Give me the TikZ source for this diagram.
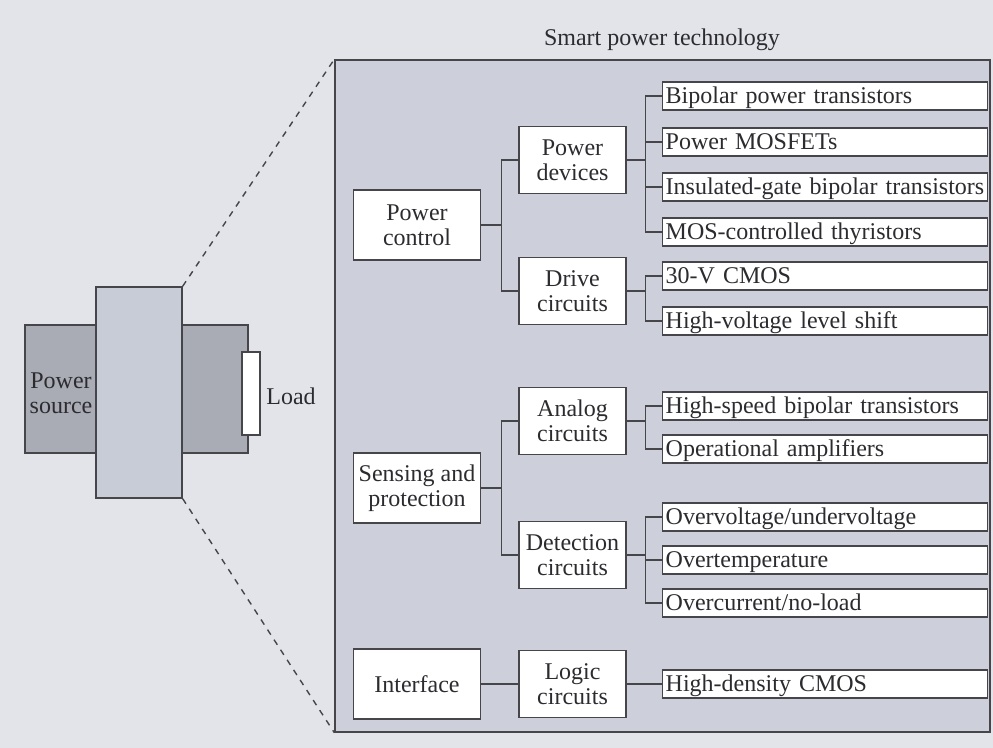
\documentclass[tikz,border=0pt]{standalone}
\usepackage{fontspec}
\setmainfont{Liberation Serif}
\usepackage{tikz}
\usetikzlibrary{positioning}
\definecolor{bgcol}{HTML}{E2E4EA}
\definecolor{boxcol}{HTML}{CDD0DB}
\definecolor{darkcol}{HTML}{A9ACB4}
\definecolor{midcol}{HTML}{C8CCD6}
\definecolor{linecol}{HTML}{46464A}
\definecolor{textcol}{HTML}{2C2C30}
\tikzset{
	groupnode/.style={
			draw=linecol,
			fill=white,
			line width=0.7pt,
			minimum width=63.5pt,
			minimum height=35pt,
			inner sep=1pt,
			align=center,
			text=textcol,
			font=\fontsize{12}{12.5}\selectfont
		},
	subnode/.style={
			groupnode,
			minimum width=53.5pt,
			minimum height=33.5pt
		},
	leafnode/.style={
			draw=linecol,
			fill=white,
			line width=0.7pt,
			anchor=west,
			text width=159.5pt,
			inner xsep=1.5pt,
			inner ysep=0pt,
			minimum height=14pt,
			text height=9.5pt,
			text depth=1.5pt,
			align=left,
			text=textcol,
			font=\fontsize{12}{12.5}\selectfont
		},
	plainnode/.style={
			draw=linecol,
			line width=0.7pt,
			inner sep=0pt
		},
	labelnode/.style={
			align=center,
			inner sep=0pt,
			text=textcol,
			font=\fontsize{12}{12.5}\selectfont
		},
	connline/.style={
			draw=linecol,
			line width=0.7pt
		}
}

\begin{document}
\begin{tikzpicture}[x=0.5pt, y=-0.5pt]

\useasboundingbox (0,0) rectangle (993,748);
\fill[bgcol] (0,0) rectangle (993,748);

\node[plainnode, fill=darkcol, minimum width=36pt, minimum height=64pt] (src) at (61,389) {};
\node[plainnode, fill=darkcol, minimum width=33pt, minimum height=64pt] (out) at (215,389) {};
\node[plainnode, fill=midcol, minimum width=43pt, minimum height=105.5pt] (mid) at (139,392.5) {};
\node[plainnode, fill=white, minimum width=9pt, minimum height=41.5pt] (load) at (251,393.5) {};
\node[labelnode] (srctext) at (61,393) {Power\\source};
\node[labelnode] (loadtext) at (291,396) {Load};

\node[plainnode, fill=boxcol, minimum width=327.5pt, minimum height=336pt] (big) at (662.5,396) {};
\node[labelnode] (title) at (662,40) {Smart power technology};

\draw[connline, dashed] (mid.north east) -- (big.north west);
\draw[connline, dashed] (mid.south east) -- (big.south west);

\node[groupnode] (pc) at (417,225) {Power\\control};
\node[groupnode] (sp) at (417,488) {Sensing and\\protection};
\node[groupnode] (itf) at (417,684) {Interface};

\node[subnode] (pd) at (572.5,160) {Power\\devices};
\node[subnode] (dc) at (572.5,291) {Drive\\circuits};
\node[subnode] (ac) at (572.5,421) {Analog\\circuits};
\node[subnode] (det) at (572.5,555) {Detection\\circuits};
\node[subnode] (lc) at (572.5,684) {Logic\\circuits};

\node[leafnode] (bpt) at (662,96) {Bipolar power transistors};
\node[leafnode] (mosfet) at (662,142) {Power MOSFETs};
\node[leafnode] (igbt) at (662,187) {Insulated-gate bipolar transistors};
\node[leafnode] (mct) at (662,232) {MOS-controlled thyristors};
\node[leafnode] (cmos) at (662,276) {30-V CMOS};
\node[leafnode] (hvls) at (662,321) {High-voltage level shift};
\node[leafnode] (hsbt) at (662,406) {High-speed bipolar transistors};
\node[leafnode] (opamp) at (662,449) {Operational amplifiers};
\node[leafnode] (ovuv) at (662,517) {Overvoltage/undervoltage};
\node[leafnode] (ot) at (662,560) {Overtemperature};
\node[leafnode] (oc) at (662,603) {Overcurrent/no-load};
\node[leafnode] (hdcmos) at (662,684) {High-density CMOS};

\draw[connline] (pc.east) -- ++(20,0) |- (pd.west);
\draw[connline] (pc.east) -- ++(20,0) |- (dc.west);
\draw[connline] (sp.east) -- ++(20,0) |- (ac.west);
\draw[connline] (sp.east) -- ++(20,0) |- (det.west);
\draw[connline] (itf.east) -- (lc.west);

\draw[connline] (pd.east) -- ++(19,0) |- (bpt.west);
\draw[connline] (pd.east) -- ++(19,0) |- (mosfet.west);
\draw[connline] (pd.east) -- ++(19,0) |- (igbt.west);
\draw[connline] (pd.east) -- ++(19,0) |- (mct.west);
\draw[connline] (dc.east) -- ++(19,0) |- (cmos.west);
\draw[connline] (dc.east) -- ++(19,0) |- (hvls.west);
\draw[connline] (ac.east) -- ++(19,0) |- (hsbt.west);
\draw[connline] (ac.east) -- ++(19,0) |- (opamp.west);
\draw[connline] (det.east) -- ++(19,0) |- (ovuv.west);
\draw[connline] (det.east) -- ++(19,0) |- (ot.west);
\draw[connline] (det.east) -- ++(19,0) |- (oc.west);
\draw[connline] (lc.east) -- (hdcmos.west);

\end{tikzpicture}
\end{document}
